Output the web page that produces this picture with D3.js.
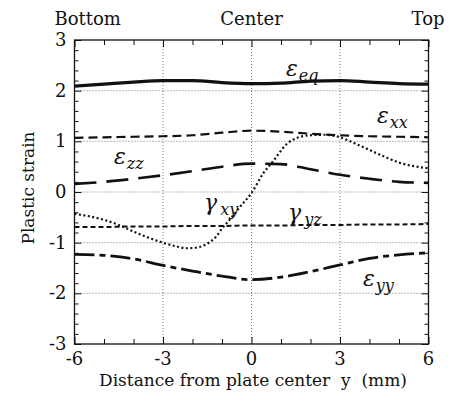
<!DOCTYPE html>
<html><head><meta charset="utf-8">
<script src="https://cdn.jsdelivr.net/npm/d3@7"></script>
<style>body{margin:0;background:#fff}svg{display:block}</style>
</head><body><svg id="c" width="454" height="406" style="font-family: 'DejaVu Serif', 'Liberation Serif', serif"></svg>
<script>
const xTicks = [-6, -3, 0, 3, 6];
const yTicks = [-3, -2, -1, 0, 1, 2, 3];
const topLabels = ["Bottom", "Center", "Top"];
const xs = [-6, -5, -4, -3, -2, -1, 0, 1, 2, 3, 4, 5, 6];
const epsEq = [2.09, 2.13, 2.17, 2.20, 2.20, 2.16, 2.14, 2.15, 2.19, 2.20, 2.17, 2.14, 2.13];
const epsXX = [1.07, 1.08, 1.09, 1.10, 1.12, 1.17, 1.21, 1.19, 1.15, 1.12, 1.10, 1.09, 1.08];
const epsZZ = [0.16, 0.20, 0.26, 0.33, 0.41, 0.50, 0.56, 0.55, 0.45, 0.34, 0.26, 0.20, 0.18];
const gamXYx = [-6, -5, -4.5, -4, -3.5, -3, -2.5, -2.2, -1.8, -1.5, -1.2, -1, -0.7, -0.4, 0, 0.4, 0.75, 1.2, 1.6, 2, 2.5, 3, 3.5, 4, 4.5, 5, 5.5, 6];
const gamXY = [-0.43, -0.55, -0.65, -0.78, -0.90, -1.00, -1.08, -1.11, -1.09, -1.02, -0.88, -0.72, -0.52, -0.30, -0.02, 0.37, 0.62, 0.95, 1.08, 1.12, 1.13, 1.08, 0.96, 0.83, 0.70, 0.58, 0.51, 0.47];
const gamYZ = [-0.69, -0.69, -0.68, -0.68, -0.67, -0.67, -0.66, -0.66, -0.65, -0.65, -0.64, -0.64, -0.63];
const epsYY = [-1.23, -1.25, -1.32, -1.45, -1.56, -1.66, -1.73, -1.68, -1.57, -1.44, -1.31, -1.24, -1.20];

const svg = d3.select("#c");
const L = 74.5, R = 428.5, T = 40, B = 344;
const x = d3.scaleLinear().domain([-6, 6]).range([L, R]);
const y = d3.scaleLinear().domain([-3, 3]).range([B, T]);

// grid
const g = svg.append("g");
g.selectAll(".vg").data(xTicks.slice(1, -1)).join("line")
  .attr("x1", d => x(d)).attr("x2", d => x(d)).attr("y1", T).attr("y2", B)
  .attr("stroke", "#555").attr("stroke-width", 0.8).attr("stroke-dasharray", "1,2");
g.selectAll(".hg").data(yTicks.slice(1, -1)).join("line")
  .attr("y1", d => y(d)).attr("y2", d => y(d)).attr("x1", L).attr("x2", R)
  .attr("stroke", "#555").attr("stroke-width", 0.8).attr("stroke-dasharray", "1,2");

// axes with inward ticks
const xMinor = d3.range(-6, 6.01, 1);
const yMinor = d3.range(-3, 3.001, 0.2);
function tickSet(axisGen, tr) {
  const a = svg.append("g").attr("transform", tr);
  a.call(axisGen);
  a.select(".domain").remove();
  a.selectAll("line").attr("stroke", "#111").attr("stroke-width", 1);
  return a;
}
const xb = tickSet(d3.axisBottom(x).tickValues(xMinor).tickSize(-5).tickFormat(""), `translate(0,${B})`);
const xt = tickSet(d3.axisTop(x).tickValues(xMinor).tickSize(-5).tickFormat(""), `translate(0,${T})`);
const yl = tickSet(d3.axisLeft(y).tickValues(yMinor).tickSize(-4).tickFormat(""), `translate(${L},0)`);
const yr = tickSet(d3.axisRight(y).tickValues(yMinor).tickSize(-4).tickFormat(""), `translate(${R},0)`);
[yl, yr].forEach(a => a.selectAll(".tick line").filter(d => Math.abs(d - Math.round(d)) < 1e-6).attr("x2", a === yl ? 7 : -7));
[xb, xt].forEach(a => a.selectAll(".tick line").filter(d => d % 3 === 0).attr("y2", a === xb ? -7 : 7));

svg.append("rect").attr("x", L).attr("y", T).attr("width", R - L).attr("height", B - T)
  .attr("fill", "none").attr("stroke", "#111").attr("stroke-width", 1.3);

// tick labels
svg.append("g").selectAll("text").data(xTicks).join("text")
  .attr("x", d => x(d)).attr("y", B + 21).attr("text-anchor", "middle")
  .attr("font-size", 18).attr("fill", "#111").text(d => d);
svg.append("g").selectAll("text").data(yTicks).join("text")
  .attr("x", L - 8).attr("y", d => y(d) + 6).attr("text-anchor", "end")
  .attr("font-size", 18).attr("fill", "#111").text(d => d);

// top labels
const topPos = [-6, 0, 6];
svg.append("g").selectAll("text").data(topLabels).join("text")
  .attr("x", (d, i) => x(topPos[i])).attr("y", 25)
  .attr("text-anchor", (d, i) => i === 0 ? "start" : i === 1 ? "middle" : "end")
  .attr("dx", (d, i) => i === 0 ? -20 : i === 2 ? 16 : 0)
  .attr("font-size", 18).attr("fill", "#111").text(d => d);

// axis titles
svg.append("text").attr("x", 253).attr("y", 386).attr("text-anchor", "middle")
  .attr("font-size", 17).attr("fill", "#111").attr("xml:space", "preserve")
  .text("Distance from plate center  y  (mm)");
svg.append("text").attr("transform", "translate(34,188) rotate(-90)").attr("text-anchor", "middle")
  .attr("font-size", 17).attr("fill", "#111").text("Plastic strain");

// curves
const line = d3.line().x(d => x(d[0])).y(d => y(d[1])).curve(d3.curveMonotoneX);
function draw(xv, yv, w, dash) {
  svg.append("path").datum(xv.map((v, i) => [v, yv[i]])).attr("d", line)
    .attr("fill", "none").attr("stroke", "#111").attr("stroke-width", w)
    .attr("stroke-dasharray", dash);
}
draw(xs, epsEq, 3.2, null);
draw(xs, epsXX, 2.2, "9,5");
draw(xs, epsZZ, 2.6, "22,10");
draw(gamXYx, gamXY, 2.2, "2,2.5");
draw(xs, gamYZ, 2, "5,3");
draw(xs, epsYY, 2.8, "20,5,6,5");

// curve labels
function lab(px, py, main, sub) {
  const t = svg.append("text").attr("x", px).attr("y", py).attr("font-size", 22)
    .attr("font-style", "italic").attr("fill", "#111");
  t.append("tspan").text(main);
  t.append("tspan").attr("font-size", 16).attr("dy", 5).attr("dx", main === "γ" ? 3 : 1).text(sub);
}
lab(286, 76, "ε", "eq");
lab(377, 123, "ε", "xx");
lab(114, 164, "ε", "zz");
lab(204, 210, "γ", "xy");
lab(288, 220, "γ", "yz");
lab(363, 286, "ε", "yy");
</script></body></html>
